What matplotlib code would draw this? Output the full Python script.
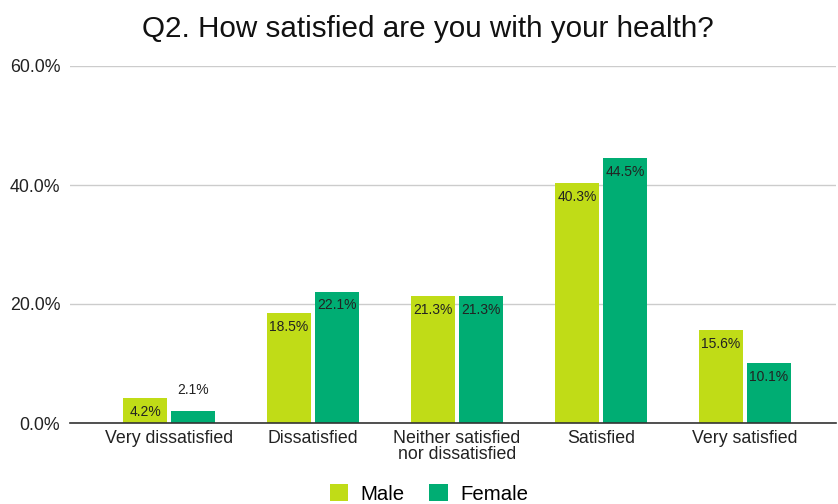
import matplotlib
matplotlib.use("Agg")
import matplotlib.pyplot as plt
import numpy as np

plt.rcParams['font.family'] = ['Liberation Sans', 'DejaVu Sans']

categories = ["Very dissatisfied", "Dissatisfied", "Neither satisfied\nnor dissatisfied", "Satisfied", "Very satisfied"]
male = [4.2, 18.5, 21.3, 40.3, 15.6]
female = [2.1, 22.1, 21.3, 44.5, 10.1]
yticks = [0, 20, 40, 60]

male_color = '#c0dc17'
female_color = '#00ad73'

fig = plt.figure(figsize=(8.38, 5.04), dpi=100)
ax = fig.add_axes([70/838, 1 - 423/504, (836-70)/838, (423-66)/504])

x = np.arange(len(categories))
w = 0.305
off = 0.166
bm = ax.bar(x - off, male, w, color=male_color, label='Male', zorder=3)
bf = ax.bar(x + off, female, w, color=female_color, label='Female', zorder=3)

for bars, vals in ((bm, male), (bf, female)):
    for b, v in zip(bars, vals):
        cx = b.get_x() + b.get_width() / 2
        if v < 3:
            ax.annotate(f"{v:.1f}%", (cx, v), xytext=(0, 10), textcoords='offset points',
                        ha='center', va='bottom', fontsize=10, color='#222222')
        else:
            ax.annotate(f"{v:.1f}%", (cx, v), xytext=(0, -5), textcoords='offset points',
                        ha='center', va='top', fontsize=10, color='#222222')

ax.set_xlim(-0.6875, 4.632)
ax.set_ylim(0, 60)
ax.set_yticks(yticks)
ax.set_yticklabels([f"{t:.1f}%" for t in yticks], fontsize=12.8, color='#222222')
ax.set_xticks(x)
ax.set_xticklabels(categories, fontsize=12.8, color='#222222', linespacing=0.95)
ax.tick_params(axis='both', length=0)
ax.tick_params(axis='x', pad=5)
ax.tick_params(axis='y', pad=7)
ax.grid(axis='y', color='#cccccc', linewidth=1, zorder=0)
for s in ['top', 'right', 'left']:
    ax.spines[s].set_visible(False)
ax.spines['bottom'].set_color('#333333')
ax.spines['bottom'].set_linewidth(1.2)
ax.spines['bottom'].set_zorder(4)

fig.text(0.511, 1 - 29/504, "Q2. How satisfied are you with your health?", ha='center', va='center',
         fontsize=21.3, color='#111111')

fig.legend(handles=[bm, bf], labels=['Male', 'Female'], loc='center', bbox_to_anchor=(0.512, 1 - 494/504),
           ncol=2, frameon=False, fontsize=14.7, handlelength=0.92, handleheight=0.92, columnspacing=1.2,
           handletextpad=0.6, borderpad=0.2)

fig.savefig('out.png', dpi=100)
